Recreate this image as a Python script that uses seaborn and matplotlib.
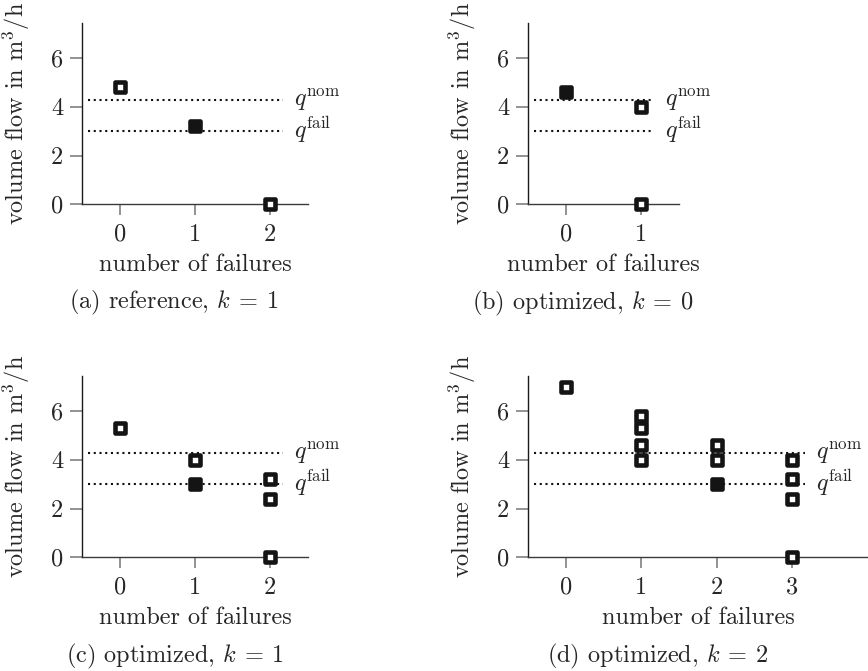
import matplotlib
matplotlib.use("Agg")
import matplotlib.pyplot as plt
import seaborn as sns
import pandas as pd

# ---- data ----
q_nom = 4.3
q_fail = 3.0

a_open_x = [0, 2]
a_open_y = [4.8, 0.0]
a_fill_x = [1]
a_fill_y = [3.2]

b_open_x = [1, 1]
b_open_y = [4.0, 0.0]
b_fill_x = [0]
b_fill_y = [4.62]

c_open_x = [0, 1, 2, 2, 2]
c_open_y = [5.3, 4.0, 3.2, 2.4, 0.0]
c_fill_x = [1]
c_fill_y = [3.0]

d_open_x = [0, 1, 1, 1, 1, 2, 2, 3, 3, 3, 3]
d_open_y = [7.0, 5.8, 5.3, 4.62, 4.0, 4.62, 4.0, 4.0, 3.2, 2.4, 0.0]
d_fill_x = [2]
d_fill_y = [3.0]

captions = [r"(a) reference, $k\:=\:1$", r"(b) optimized, $k\:=\:0$",
            r"(c) optimized, $k\:=\:1$", r"(d) optimized, $k\:=\:2$"]
max_failures = [2, 1, 2, 3]
xlims_right = [2.5, 1.5, 2.5, 4.0]
y_ticks = [0, 2, 4, 6]

FS = 17.5

sns.set_theme(style="white")
plt.rcParams.update({
    "font.family": ["cmr10", "DejaVu Serif"],
    "mathtext.fontset": "cm",
    "axes.formatter.use_mathtext": True,
    "font.size": FS,
    "axes.unicode_minus": False,
})

W, H = 868, 671
fig = plt.figure(figsize=(W / 100, H / 100), dpi=100)

ax_h = 181.6
positions = [
    (82, 204.3, 226),
    (528, 204.3, 151),
    (82, 557.3, 226),
    (528, 557.3, 340),
]
cap_pos = [(174, 308.5), (583, 309), (175, 662), (658, 662)]

panels = [
    (a_open_x, a_open_y, a_fill_x, a_fill_y),
    (b_open_x, b_open_y, b_fill_x, b_fill_y),
    (c_open_x, c_open_y, c_fill_x, c_fill_y),
    (d_open_x, d_open_y, d_fill_x, d_fill_y),
]

for i, (ox, oy, fx, fy) in enumerate(panels):
    left, bottom, width = positions[i]
    ax = fig.add_axes([left / W, 1 - bottom / H, width / W, ax_h / H])
    n = max_failures[i]

    ax.hlines([q_nom, q_fail], -0.42, n + 0.17, colors="#111111",
              linewidth=1.5, linestyles=[(0, (1.0, 1.75))], zorder=2)
    ax.text(n + 0.31, q_nom - 0.26, r"$q^{\mathrm{nom}}$", ha="left",
            va="baseline", fontsize=FS)
    ax.text(n + 0.31, q_fail - 0.26, r"$q^{\mathrm{fail}}$", ha="left",
            va="baseline", fontsize=FS)

    df_open = pd.DataFrame({"failures": ox, "flow": oy})
    df_fill = pd.DataFrame({"failures": fx, "flow": fy})
    sns.scatterplot(data=df_open, x="failures", y="flow", marker="s", s=62,
                    facecolor="white", edgecolor="#141414", linewidth=3.3,
                    ax=ax, zorder=5, clip_on=False)
    sns.scatterplot(data=df_fill, x="failures", y="flow", marker="s", s=62,
                    color="#141414", edgecolor="#141414", linewidth=3.3,
                    ax=ax, zorder=5, clip_on=False)

    ax.set_xlim(-0.5, xlims_right[i])
    ax.set_ylim(0, 7.46)
    ax.set_xticks(list(range(n + 1)))
    ax.set_yticks(y_ticks)
    ax.set_xticklabels([str(v) for v in range(n + 1)])
    ax.set_yticklabels([str(v) for v in y_ticks])
    ax.tick_params(axis="x", direction="out", length=8, width=1.3,
                   color="#8a8a8a", pad=6, labelsize=FS, bottom=True)
    ax.tick_params(axis="y", direction="out", length=8.5, width=1.3,
                   color="#8a8a8a", pad=5, labelsize=FS, left=True)
    for side in ["top", "right"]:
        ax.spines[side].set_visible(False)
    ax.spines["left"].set_color("#1a1a1a")
    ax.spines["left"].set_linewidth(1.0)
    ax.spines["bottom"].set_color("#3a3a3a")
    ax.spines["bottom"].set_linewidth(1.0)
    ax.set_xlabel("number of failures", fontsize=FS, labelpad=6)
    ax.set_ylabel("volume flow in m$^3$/h", fontsize=FS, labelpad=14)

    cx, cy = cap_pos[i]
    fig.text(cx / W, 1 - cy / H, captions[i], ha="center", va="baseline",
             fontsize=FS)

fig.savefig("out.png", dpi=100)
